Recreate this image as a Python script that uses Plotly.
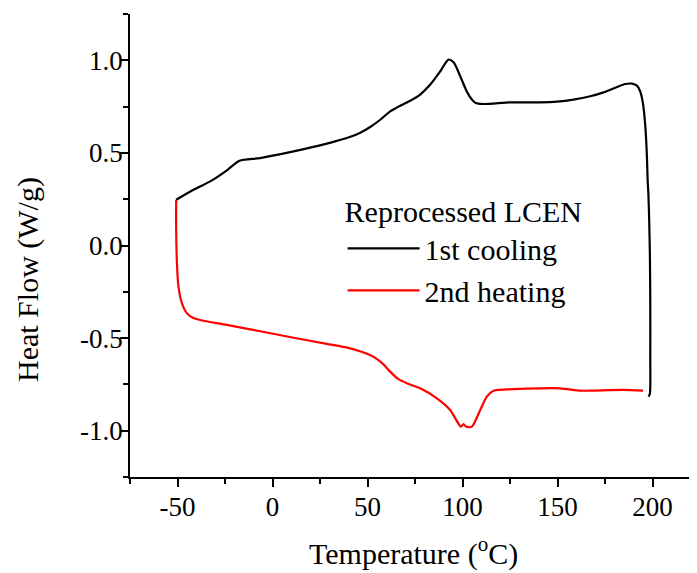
import plotly.graph_objects as go

# 1st cooling (temperature in degC, heat flow in W/g)
cool_T = [197.9, 198.6, 198.8, 198.8, 198.6, 198.2, 197.8, 197.4, 197.1, 196.2, 194.9, 193.5,
          191.8, 189.2, 185.6, 181.3, 174.2, 167.2, 158.4, 149.7, 140.9, 125.0, 111.0, 106.7,
          104.9, 102.3, 98.8, 95.3, 92.6, 88.3, 83.0, 77.7, 72.5, 67.2, 61.9, 56.7, 51.4, 46.2, 41.0,
          28.6, 11.1, -6.5, -17.4, -24.0, -32.8, -41.6, -50.7]
cool_HF = [-0.816, -0.800, -0.600, -0.300, -0.050, 0.150, 0.280, 0.355, 0.463, 0.643, 0.770, 0.832,
           0.863, 0.874, 0.872, 0.856, 0.827, 0.806, 0.788, 0.777, 0.773, 0.773, 0.764, 0.771,
           0.788, 0.830, 0.914, 0.989, 1.004, 0.941, 0.869, 0.815, 0.782, 0.755, 0.724, 0.679, 0.640, 0.609, 0.587,
           0.550, 0.508, 0.472, 0.458, 0.406, 0.346, 0.301, 0.247]

# 2nd heating
heat_T = [-50.7, -50.7, -50.3, -49.5, -47.7, -45.1, -41.6, -38.1, -24.0, -6.5, 11.1, 28.6, 40.0,
          46.0, 51.0, 55.0, 58.4, 61.9, 66.3, 70.7, 77.7, 86.5, 93.5, 99.1, 100.5, 101.9, 104.9, 109.3,
          112.8, 116.3, 126.8, 140.9, 151.4, 162.0, 167.2, 184.7, 195.0]
heat_HF = [0.247, 0.085, -0.095, -0.222, -0.311, -0.365, -0.392, -0.402, -0.429, -0.463, -0.498, -0.531, -0.553,
           -0.571, -0.590, -0.613, -0.642, -0.681, -0.722, -0.744, -0.771, -0.825, -0.888, -0.978, -0.965, -0.978, -0.978, -0.888,
           -0.816, -0.784, -0.776, -0.771, -0.771, -0.784, -0.784, -0.780, -0.784]

x_ticks = [-50, 0, 50, 100, 150, 200]
x_ticktext = ["-50", "0", "50", "100", "150", "200"]
y_ticks = [-1.0, -0.5, 0.0, 0.5, 1.0]
y_ticktext = ["-1.0", "-0.5", "0.0", "0.5", "1.0"]

FONT = "Liberation Serif, Times New Roman, serif"

fig = go.Figure()
fig.add_trace(go.Scatter(x=cool_T, y=cool_HF, mode="lines", name="1st cooling",
                         line=dict(color="black", width=2.2, shape="spline", smoothing=0.7)))
fig.add_trace(go.Scatter(x=heat_T, y=heat_HF, mode="lines", name="2nd heating",
                         line=dict(color="red", width=2.2, shape="spline", smoothing=0.7)))

axis_common = dict(showline=True, linecolor="black", linewidth=1.6, showgrid=False, zeroline=False,
                   ticks="outside", ticklen=8, tickwidth=1.6, tickcolor="black",
                   tickfont=dict(family=FONT, size=27, color="black"))

fig.update_xaxes(range=[-75, 227.6], tickvals=x_ticks, ticktext=x_ticktext, ticklabelstandoff=-3,
                 minor=dict(ticks="outside", ticklen=5, tickwidth=1.6, tickcolor="black", dtick=25, tick0=-75),
                 **axis_common)
fig.update_yaxes(range=[-1.25, 1.25], tickvals=y_ticks, ticktext=y_ticktext, ticklabelstandoff=-8,
                 minor=dict(ticks="outside", ticklen=5, tickwidth=1.6, tickcolor="black", dtick=0.25, tick0=-1.25),
                 **axis_common)

fig.add_annotation(text="Heat Flow (W/g)", xref="paper", yref="paper", x=-0.1774, y=0.4276,
                   xanchor="center", yanchor="middle", textangle=-90, showarrow=False,
                   font=dict(family=FONT, size=30, color="black"))
fig.add_annotation(text="Temperature (<sup>o</sup>C)", xref="paper", yref="paper", x=0.493, y=-0.16,
                   xanchor="center", yanchor="middle", showarrow=False,
                   font=dict(family=FONT, size=30, color="black"))

fig.update_layout(
    width=697, height=573,
    margin=dict(l=122, r=0, t=6, b=104),
    paper_bgcolor="white", plot_bgcolor="white",
    font=dict(family=FONT, color="black"),
    showlegend=True,
    legend=dict(x=0.3697, y=0.634, xanchor="left", yanchor="top",
                bgcolor="rgba(0,0,0,0)", borderwidth=0,
                font=dict(family=FONT, size=30, color="black"),
                title=dict(text="Reprocessed LCEN", font=dict(family=FONT, size=30, color="black")),
                tracegroupgap=0, itemwidth=72),
)

fig.write_html("out.html")
